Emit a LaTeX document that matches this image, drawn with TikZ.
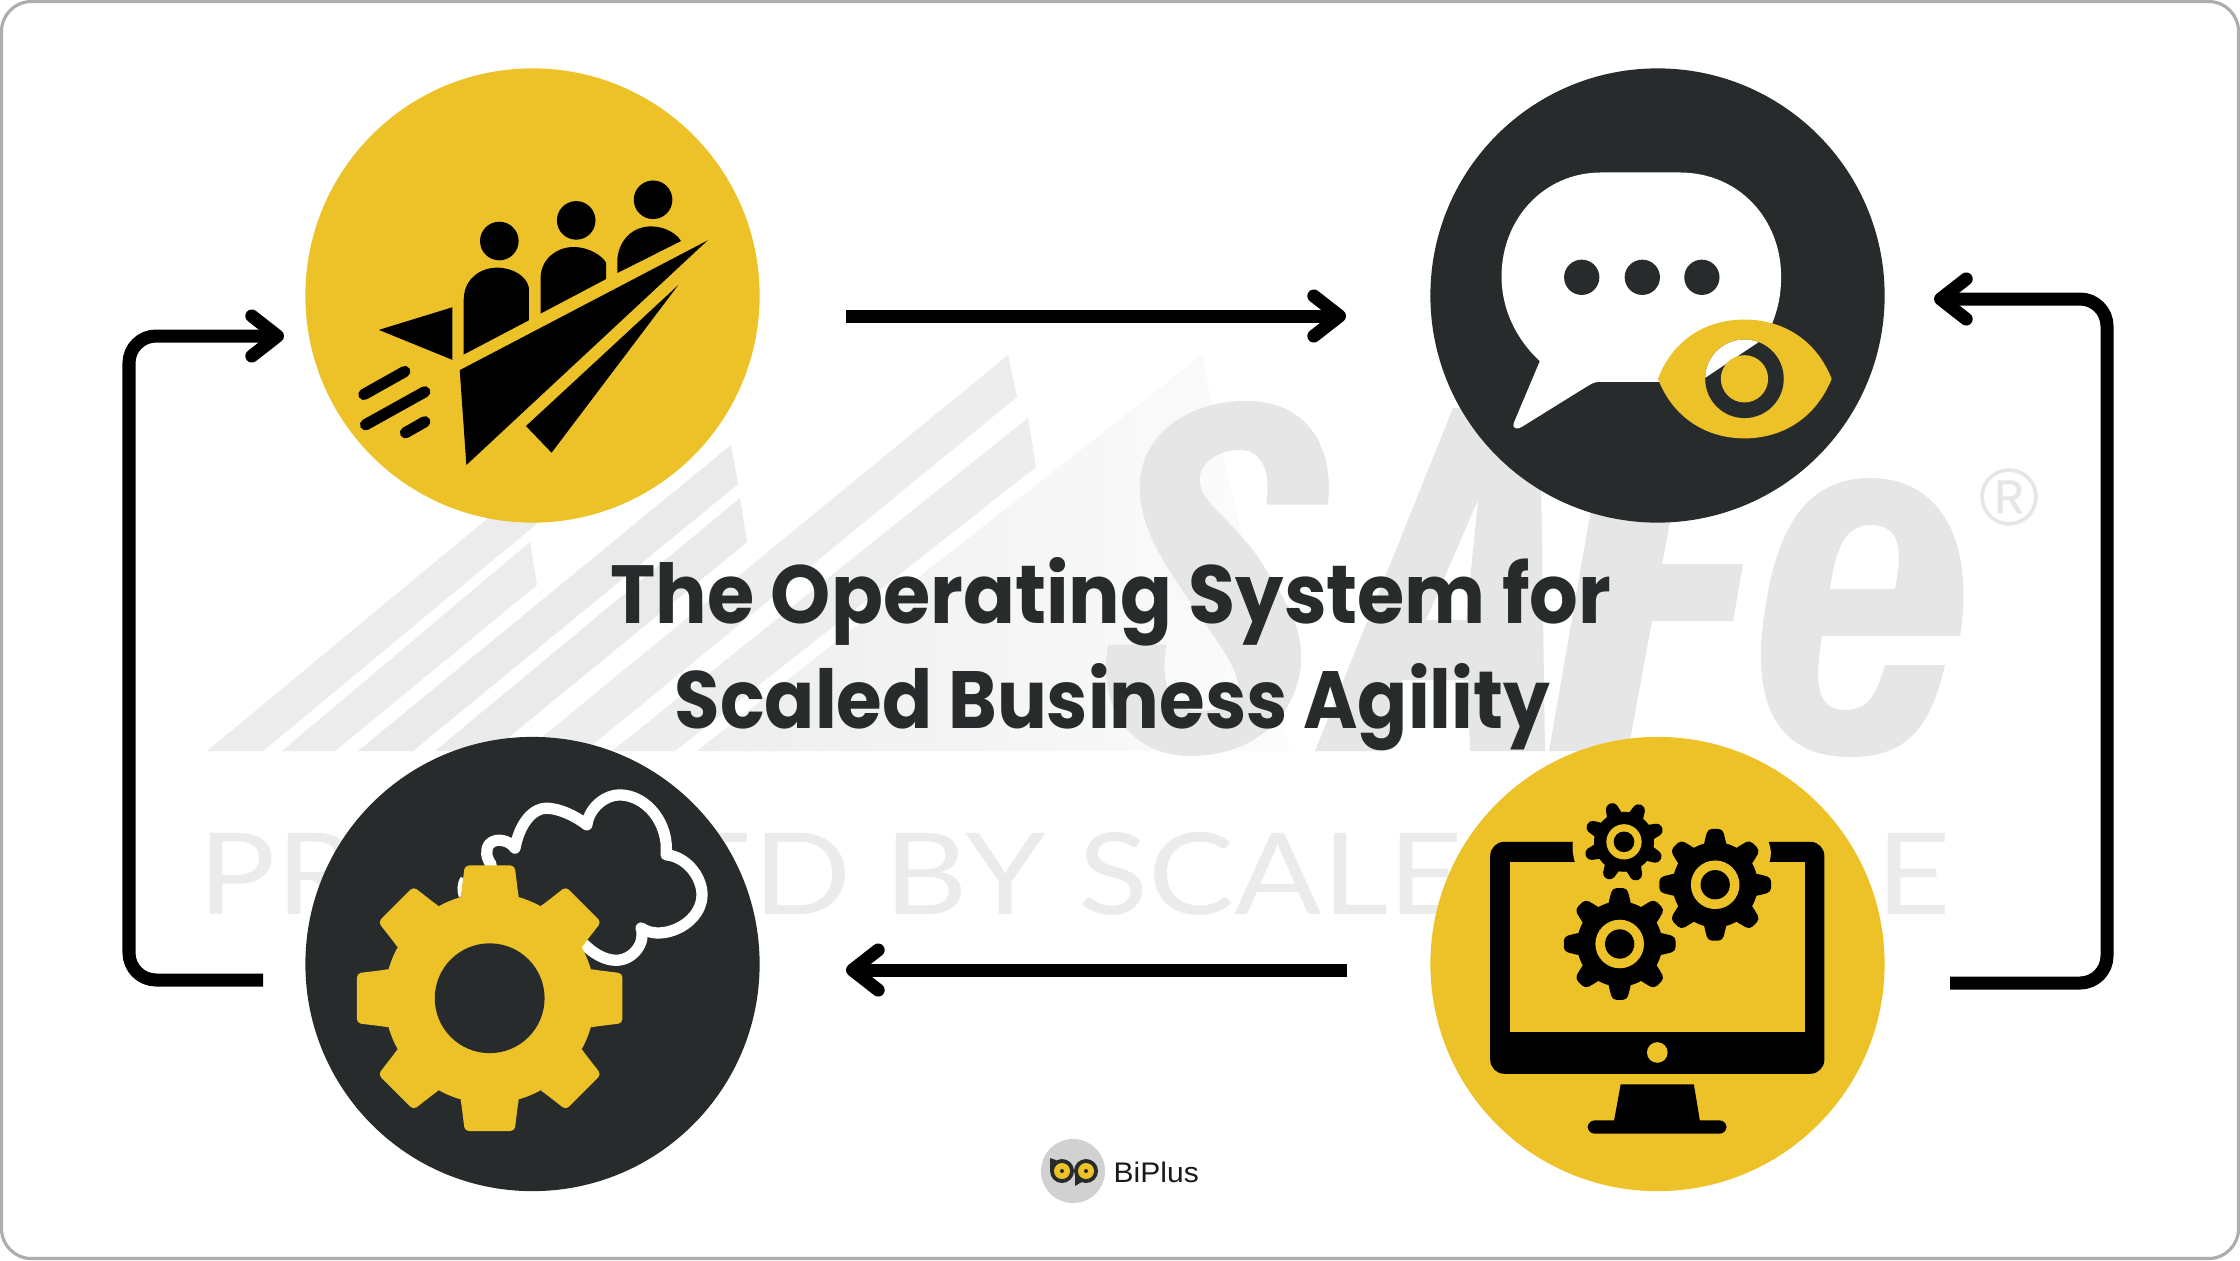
\documentclass[tikz,border=0pt]{standalone}
\usepackage{fontspec}
\usepackage{graphicx}
\usetikzlibrary{arrows.meta}
\setmainfont{Liberation Sans}
\newfontfamily\titlefont{Poppins}
\newfontfamily\wmfont{Lato}
\definecolor{ink}{HTML}{272B2C}
\definecolor{gold}{HTML}{ECC228}
\definecolor{wm}{HTML}{E6E6E6}
\newcommand{\gearshape}[8]{%
  \begin{scope}[shift={(#1,#2)}]
    \fill[#8] (0,0) circle (#3);
    \foreach \ga in {0,45,...,315}{
      \fill[#8,rotate=\ga+#7,rounded corners=1.2pt] (-#6-4,-#3+20)--(-#6,-#3-2)--(-#5,-#4)--(#5,-#4)--(#6,-#3-2)--(#6+4,-#3+20)--cycle;
    }
  \end{scope}}
\tikzset{
  disc/.style={circle,inner sep=0pt,minimum size=4.54cm},
  conn/.style={line width=3.7pt,black,-{Straight Barb[round,length=7.3pt,width=11.4pt,line width=3.7pt]}},
  loopconn/.style={conn,rounded corners=7.7pt},
  iconA/.style={shift={(290,50)},x=0.0033333cm,y=-0.0033333cm},
  iconB/.style={shift={(1410,50)},x=0.0033333cm,y=-0.0033333cm},
  iconC/.style={shift={(290,720)},x=0.0033333cm,y=-0.0033333cm},
  iconD/.style={shift={(1410,720)},x=0.0033333cm,y=-0.0033333cm},
  iconW/.style={shift={(1000,340)},x=0.0033333cm,y=-0.0033333cm},
  speedline/.style={line width=3.2pt,line cap=round},
  wmletter/.style={anchor=base west,inner sep=0pt,text=wm!80!white},
  titleline/.style={anchor=base west,inner sep=0pt,text=ink}
}
\begin{document}
\begin{tikzpicture}[x=0.01cm,y=-0.01cm]
\useasboundingbox (0,0) rectangle (2240,1260);
\fill[white] (0,0) rectangle (2240,1260);
\draw[draw=black!32,line width=0.9pt,rounded corners=8.5pt] (1.5,1.5) rectangle (2238.5,1258.5);

% watermark mountain stripes
\fill[wm!75!white] (207,751)--(263,751)--(545,517)--(510,500)--cycle;
\fill[wm!75!white] (282,751)--(335,751)--(537,585)--(530,542)--cycle;
\fill[wm!85!white] (358,751)--(413,751)--(738,484)--(731,445)--cycle;
\fill[wm!85!white] (435,751)--(492,751)--(747,542)--(740,498)--cycle;
\fill[wm!70!white] (525,751)--(585,751)--(1017,397)--(1008,355)--cycle;
\fill[wm!70!white] (612,751)--(675,751)--(1036,467)--(1028,418)--cycle;
\begin{scope}
  \clip (697,751)--(1290,751)--(1211,400)--(1202,355)--cycle;
  \foreach \bi in {0,...,24}{
    \pgfmathtruncatemacro{\bp}{70-2.4*\bi}
    \fill[wm!\bp!white] (697+24*\bi,340) rectangle (697+24*\bi+25,760);
  }
\end{scope}

% watermark lettering
\begin{scope}[iconW]
  \fill[wm] (800,495) -- (985,495) .. controls (1005,330) and (930,183) .. (740,183) .. controls (560,183) and (420,290) .. (420,440) .. controls (420,560) and (480,650) .. (560,770) .. controls (640,890) and (715,980) .. (715,1040) .. controls (715,1090) and (660,1115) .. (600,1115) .. controls (510,1115) and (480,1030) .. (500,915) -- (325,915) .. controls (290,1110) and (400,1250) .. (570,1250) .. controls (780,1250) and (905,1110) .. (905,950) .. controls (905,850) and (850,770) .. (780,660) .. controls (700,540) and (600,490) .. (600,420) .. controls (600,360) and (670,330) .. (720,330) .. controls (790,330) and (815,400) .. (800,495) -- cycle;
\end{scope}
\fill[wm,even odd rule] (1315,751)--(1453,408)--(1540,408)--(1545,751)--(1470,751)--(1468,680)--(1402,680)--(1385,751)--cycle
  (1478,500)--(1466,620)--(1426,620)--cycle;
\fill[wm] (1549,751)--(1628,751)--(1652,621)--(1733,621)--(1743,564)--(1662,564)--(1680,470)--(1790,470)--(1800,400)--(1610,400)--cycle;
\fill[wm,even odd rule] (1960,636) .. controls (1975,540) and (1940,478) .. (1870,478) .. controls (1800,478) and (1775,540) .. (1765,610) .. controls (1750,700) and (1775,757) .. (1850,757) .. controls (1905,757) and (1930,730) .. (1945,665) -- (1885,665) .. controls (1875,700) and (1865,710) .. (1845,710) .. controls (1815,710) and (1815,680) .. (1822,636) -- cycle
  (1830,589) -- (1895,589) .. controls (1905,540) and (1895,525) .. (1870,525) .. controls (1845,525) and (1835,550) .. (1830,589) -- cycle;
\node[text=wm,inner sep=0pt] (wmR) at (2009,497) {\resizebox{0.6cm}{!}{®}};
\node[wmletter] (wmline) at (198,914) {\resizebox{17.5cm}{0.82cm}{\wmfont PROVIDED BY SCALED AGILE}};

% discs
\node[disc,fill=gold] (plane) at (532.5,295.5) {};
\node[disc,fill=ink] (chat) at (1657.5,295.5) {};
\node[disc,fill=ink] (cog) at (532.5,964) {};
\node[disc,fill=gold] (screen) at (1657.5,964) {};

% plane icon
\begin{scope}[iconA]
  \fill[black] (629,574) circle (58) (860,512) circle (58) (1091,450) circle (58);
  \fill[black] (522,915)--(522,750) .. controls (522,690) and (570,654) .. (622,654) .. controls (670,654) and (712,680) .. (718,715) -- (718,812) -- cycle;
  \fill[black] (753,792)--(753,685) .. controls (753,630) and (800,592) .. (852,592) .. controls (900,592) and (940,620) .. (950,640) -- (950,688) -- cycle;
  \fill[black] (984,670)--(984,625) .. controls (990,570) and (1030,530) .. (1085,530) .. controls (1125,530) and (1160,550) .. (1175,574) -- cycle;
  \fill[black] (267,841)--(488,773)--(488,931)--cycle;
  \fill[black] (510,962)--(1255,572)--(530,1247)--cycle;
  \fill[black] (1167,706)--(786,1210)--(709,1130)--cycle;
  \draw[black,speedline] (222,1035)--(345,966);
  \draw[black,speedline] (227,1126)--(405,1027);
  \draw[black,speedline] (347,1150)--(405,1117);
\end{scope}

% chat icon
\begin{scope}[iconB]
  \fill[white] (575,368)--(810,368) .. controls (990,368) and (1115,510) .. (1115,680) .. controls (1115,740) and (1105,780) .. (1085,830) -- (900,997) -- (570,997) .. controls (555,997) and (545,1003) .. (530,1012) -- (335,1133) .. controls (320,1143) and (305,1135) .. (312,1120) -- (390,935) .. controls (320,870) and (275,780) .. (275,680) .. controls (275,510) and (400,368) .. (575,368) -- cycle;
  \fill[ink] (516,683) circle (53) (698,683) circle (53) (877,683) circle (53);
  \fill[gold] (745,988) .. controls (790,870) and (890,810) .. (1005,810) .. controls (1120,810) and (1220,870) .. (1267,988) .. controls (1220,1105) and (1120,1167) .. (1005,1167) .. controls (890,1167) and (790,1105) .. (745,988) -- cycle;
  \fill[ink] (1005,988) circle (118);
  \begin{scope}
    \clip (1005,988) circle (118);
    \fill[white] (884,987)--(1050,876)--(1050,800)--(800,800)--(800,987)--cycle;
  \end{scope}
  \fill[gold] (1005,988) circle (71);
\end{scope}

% cog and cloud icon
\begin{scope}[iconC]
  \draw[white,line width=3.2pt,line cap=round,line join=round]
    (605,435) .. controls (590,415) and (585,390) .. (600,372) .. controls (620,352) and (660,362) .. (676,385)
    .. controls (690,310) and (730,265) .. (770,265) .. controls (810,265) and (860,290) .. (892,315)
    .. controls (900,260) and (950,225) .. (990,225) .. controls (1070,225) and (1140,310) .. (1130,405)
    .. controls (1190,410) and (1238,470) .. (1238,525) .. controls (1238,590) and (1170,640) .. (1105,640)
    .. controls (1090,640) and (1070,635) .. (1055,625)
    .. controls (1070,670) and (1030,722) .. (980,722) .. controls (945,722) and (910,700) .. (885,675);
  \draw[white,line width=1.5pt] (520,475) .. controls (508,495) and (510,515) .. (515,530);
  \gearshape{600}{836}{316}{399}{75}{85}{0}{gold}
  \fill[ink] (600,836) circle (165);
\end{scope}

% monitor icon
\begin{scope}[iconD]
  \fill[black,rounded corners=4pt] (241,366) rectangle (1245,1063);
  \fill[gold] (300,426) rectangle (1186,937);
  \fill[gold] (490,360) .. controls (486,385) and (490,410) .. (497,432) -- (1078,432) .. controls (1088,405) and (1085,385) .. (1075,360) -- cycle;
  \fill[gold] (743,999) circle (31);
  \fill[black] (633,1095)--(853,1095)--(872,1210)--(612,1210)--cycle;
  \fill[black,rounded corners=2pt] (534,1203) rectangle (951,1243);
  \fill[gold] (643,366) circle (150);
  \gearshape{643}{366}{90}{122}{15}{22}{20}{black}
  \fill[gold] (643,366) circle (53);
  \fill[black] (643,366) circle (31);
  \gearshape{917}{495}{128}{168}{22}{32}{0}{black}
  \fill[gold] (917,495) circle (73);
  \fill[black] (917,495) circle (44);
  \gearshape{630}{673}{128}{168}{22}{32}{0}{black}
  \fill[gold] (630,673) circle (73);
  \fill[black] (630,673) circle (44);
\end{scope}

% connectors
\coordinate (planeOut) at (846,316);
\coordinate (chatIn) at (1346,316);
\coordinate (screenOut) at (1950,983);
\coordinate (rightLow) at (2107,983);
\coordinate (rightHigh) at (2107,299);
\coordinate (chatBack) at (1934,299);
\coordinate (screenLeft) at (1347,970);
\coordinate (cogIn) at (846,970);
\coordinate (cogOut) at (263,980);
\coordinate (leftLow) at (129,980);
\coordinate (leftHigh) at (129,336);
\coordinate (planeIn) at (284,336);
\draw[conn] (planeOut) -- (chatIn);
\draw[loopconn] (screenOut) -- (rightLow) -- (rightHigh) -- (chatBack);
\draw[conn] (screenLeft) -- (cogIn);
\draw[loopconn] (cogOut) -- (leftLow) -- (leftHigh) -- (planeIn);

% title
\node[titleline] (titleA) at (610,623) {\resizebox{10cm}{0.66cm}{\titlefont\bfseries The Operating System for}};
\node[titleline] (titleB) at (674,728) {\resizebox{8.75cm}{0.65cm}{\titlefont\bfseries Scaled Business Agility}};

% BiPlus logo
\node[circle,fill=black!18,inner sep=0pt,minimum size=0.64cm] (logo) at (1073,1171) {};
\fill[ink] (1050,1158) -- (1056,1160) -- (1060,1172) -- (1050,1172) -- cycle;
\fill[ink] (1075,1186) -- (1080,1183) -- (1086,1180) -- (1075,1172) -- cycle;
\fill[ink] (1062,1171) circle (12) (1086,1171) circle (12);
\fill[gold] (1062,1171) circle (8) (1086,1171) circle (8);
\fill[ink] (1062,1171) circle (2) (1086,1171) circle (2);
\node[anchor=base west,inner sep=0pt,text=black!90] (brand) at (1113,1182) {\resizebox{0.85cm}{0.205cm}{BiPlus}};
\end{tikzpicture}
\end{document}
